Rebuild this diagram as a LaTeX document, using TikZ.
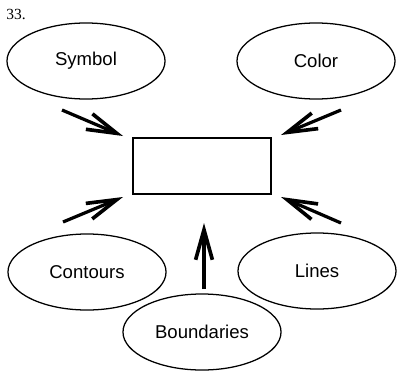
\documentclass[tikz,border=0pt]{standalone}
\usepackage{fontspec}
\setmainfont{Liberation Sans}
\newfontfamily\numfont{Liberation Serif}
\usetikzlibrary{shapes.geometric,arrows.meta}

\begin{document}
\begin{tikzpicture}[x=0.025cm, y=-0.025cm, font=\fontsize{13.2}{13.2}\selectfont,
  topic/.style={draw, ellipse, line width=0.9pt, minimum width=3.95cm, minimum height=1.9cm, inner sep=0pt},
  target/.style={draw, line width=0.9pt, minimum width=3.45cm, minimum height=1.4cm, inner sep=0pt},
  push/.style={line width=2.3pt, -{Straight Barb[length=0.75cm, width=0.42cm, line width=2.6pt]}}]
\useasboundingbox (0,0) rectangle (412,381);
\node[font=\numfont\fontsize{11}{11}\selectfont] (num) at (16,14) {33.};

\node[topic] (symbol) at (86,61) {Symbol};
\node[topic] (color) at (316,61) {Color};
\node[topic] (contours) at (87,272) {Contours};
\node[topic] (lines) at (317,271) {Lines};
\node[topic] (boundaries) at (202,332) {Boundaries};
\node[target] (box) at (202,166) {};

% arrows pointing at the box
\coordinate (symbol-tail) at (62,110);   \coordinate (symbol-head) at (123,136);
\coordinate (color-tail) at (341,110);   \coordinate (color-head) at (281,135);
\coordinate (contours-tail) at (63,222); \coordinate (contours-head) at (123,197);
\coordinate (lines-tail) at (341,223);   \coordinate (lines-head) at (281,197);
\coordinate (bound-tail) at (204,289);   \coordinate (bound-head) at (204,223);
\foreach \name in {symbol,color,contours,lines,bound} {
  \draw[push] (\name-tail) -- (\name-head);
}
\end{tikzpicture}
\end{document}
